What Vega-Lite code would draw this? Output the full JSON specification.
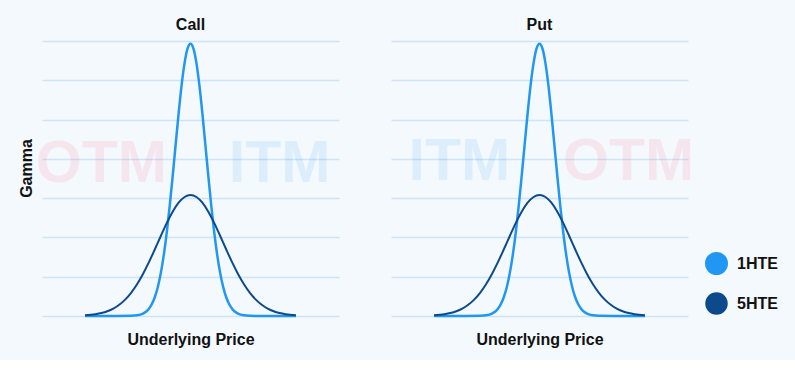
{
  "$schema": "https://vega.github.io/schema/vega-lite/v6.json",
  "background": "#f4f9fe",
  "padding": {"left": 18, "top": 16, "right": 20, "bottom": 13},
  "datasets": {
    "curves": [
      {"series": "1HTE", "x": -35.5, "gamma": 0},
      {"series": "1HTE", "x": -25, "gamma": 0},
      {"series": "1HTE", "x": -20, "gamma": 0.004},
      {"series": "1HTE", "x": -18, "gamma": 0.017},
      {"series": "1HTE", "x": -16, "gamma": 0.061},
      {"series": "1HTE", "x": -15, "gamma": 0.108},
      {"series": "1HTE", "x": -14, "gamma": 0.185},
      {"series": "1HTE", "x": -13, "gamma": 0.304},
      {"series": "1HTE", "x": -12, "gamma": 0.484},
      {"series": "1HTE", "x": -11, "gamma": 0.74},
      {"series": "1HTE", "x": -10, "gamma": 1.091},
      {"series": "1HTE", "x": -9, "gamma": 1.55},
      {"series": "1HTE", "x": -8, "gamma": 2.122},
      {"series": "1HTE", "x": -7, "gamma": 2.8},
      {"series": "1HTE", "x": -6, "gamma": 3.561},
      {"series": "1HTE", "x": -5, "gamma": 4.365},
      {"series": "1HTE", "x": -4, "gamma": 5.155},
      {"series": "1HTE", "x": -3, "gamma": 5.868},
      {"series": "1HTE", "x": -2, "gamma": 6.436},
      {"series": "1HTE", "x": -1, "gamma": 6.803},
      {"series": "1HTE", "x": 0, "gamma": 6.93},
      {"series": "1HTE", "x": 1, "gamma": 6.803},
      {"series": "1HTE", "x": 2, "gamma": 6.436},
      {"series": "1HTE", "x": 3, "gamma": 5.868},
      {"series": "1HTE", "x": 4, "gamma": 5.155},
      {"series": "1HTE", "x": 5, "gamma": 4.365},
      {"series": "1HTE", "x": 6, "gamma": 3.561},
      {"series": "1HTE", "x": 7, "gamma": 2.8},
      {"series": "1HTE", "x": 8, "gamma": 2.122},
      {"series": "1HTE", "x": 9, "gamma": 1.55},
      {"series": "1HTE", "x": 10, "gamma": 1.091},
      {"series": "1HTE", "x": 11, "gamma": 0.74},
      {"series": "1HTE", "x": 12, "gamma": 0.484},
      {"series": "1HTE", "x": 13, "gamma": 0.304},
      {"series": "1HTE", "x": 14, "gamma": 0.185},
      {"series": "1HTE", "x": 15, "gamma": 0.108},
      {"series": "1HTE", "x": 16, "gamma": 0.061},
      {"series": "1HTE", "x": 18, "gamma": 0.017},
      {"series": "1HTE", "x": 20, "gamma": 0.004},
      {"series": "1HTE", "x": 25, "gamma": 0},
      {"series": "1HTE", "x": 35.5, "gamma": 0},
      {"series": "5HTE", "x": -35.5, "gamma": 0.017},
      {"series": "5HTE", "x": -32, "gamma": 0.045},
      {"series": "5HTE", "x": -30, "gamma": 0.075},
      {"series": "5HTE", "x": -28, "gamma": 0.121},
      {"series": "5HTE", "x": -26, "gamma": 0.189},
      {"series": "5HTE", "x": -24, "gamma": 0.285},
      {"series": "5HTE", "x": -22, "gamma": 0.417},
      {"series": "5HTE", "x": -20, "gamma": 0.59},
      {"series": "5HTE", "x": -18, "gamma": 0.808},
      {"series": "5HTE", "x": -16, "gamma": 1.069},
      {"series": "5HTE", "x": -14, "gamma": 1.37},
      {"series": "5HTE", "x": -12, "gamma": 1.699},
      {"series": "5HTE", "x": -10, "gamma": 2.037},
      {"series": "5HTE", "x": -8, "gamma": 2.364},
      {"series": "5HTE", "x": -6, "gamma": 2.654},
      {"series": "5HTE", "x": -4, "gamma": 2.883},
      {"series": "5HTE", "x": -2, "gamma": 3.029},
      {"series": "5HTE", "x": 0, "gamma": 3.08},
      {"series": "5HTE", "x": 2, "gamma": 3.029},
      {"series": "5HTE", "x": 4, "gamma": 2.883},
      {"series": "5HTE", "x": 6, "gamma": 2.654},
      {"series": "5HTE", "x": 8, "gamma": 2.364},
      {"series": "5HTE", "x": 10, "gamma": 2.037},
      {"series": "5HTE", "x": 12, "gamma": 1.699},
      {"series": "5HTE", "x": 14, "gamma": 1.37},
      {"series": "5HTE", "x": 16, "gamma": 1.069},
      {"series": "5HTE", "x": 18, "gamma": 0.808},
      {"series": "5HTE", "x": 20, "gamma": 0.59},
      {"series": "5HTE", "x": 22, "gamma": 0.417},
      {"series": "5HTE", "x": 24, "gamma": 0.285},
      {"series": "5HTE", "x": 26, "gamma": 0.189},
      {"series": "5HTE", "x": 28, "gamma": 0.121},
      {"series": "5HTE", "x": 30, "gamma": 0.075},
      {"series": "5HTE", "x": 32, "gamma": 0.045},
      {"series": "5HTE", "x": 35.5, "gamma": 0.017}
    ],
    "zones": [
      {"panel": "Call", "label": "OTM", "x": -30, "gamma": 3.4},
      {"panel": "Call", "label": "ITM", "x": 30, "gamma": 3.4},
      {"panel": "Put", "label": "ITM", "x": -27, "gamma": 3.45},
      {"panel": "Put", "label": "OTM", "x": 30, "gamma": 3.45}
    ]
  },
  "config": {
    "font": "Liberation Sans",
    "view": {"stroke": null},
    "title": {"fontSize": 16, "fontWeight": "bold", "color": "#111111", "offset": 6, "anchor": "middle"},
    "axis": {"titleFontSize": 16, "titleFontWeight": "bold", "titleColor": "#111111"}
  },
  "spacing": 52,
  "hconcat": [
    {
      "title": "Call",
      "width": 297,
      "height": 275,
      "encoding": {
        "x": {"field": "x", "type": "quantitative", "scale": {"domain": [-50, 50]}, "axis": {"grid": false, "labels": false, "ticks": false, "domain": false, "title": "Underlying Price", "titlePadding": 15}},
        "y": {"field": "gamma", "type": "quantitative", "scale": {"domain": [0, 7], "nice": false}, "axis": {"tickCount": 7, "tickMinStep": 1, "grid": true, "gridColor": "#cde3f9", "gridWidth": 1.5, "labels": false, "ticks": false, "domain": false, "title": "Gamma", "titleBaseline": "alphabetic", "titleX": -11, "titleY": 127}}
      },
      "layer": [
        {
          "data": {"name": "zones"},
          "transform": [{"filter": "datum.panel === 'Call' && datum.label === 'OTM'"}],
          "mark": {"type": "text", "font": "Liberation Sans", "fontWeight": "bold", "fontSize": 59, "align": "center", "baseline": "alphabetic", "color": "#ff4d6d", "opacity": 0.1},
          "encoding": {"text": {"field": "label"}}
        },
        {
          "data": {"name": "zones"},
          "transform": [{"filter": "datum.panel === 'Call' && datum.label === 'ITM'"}],
          "mark": {"type": "text", "font": "Liberation Sans", "fontWeight": "bold", "fontSize": 59, "align": "center", "baseline": "alphabetic", "color": "#2196f3", "opacity": 0.11},
          "encoding": {"text": {"field": "label"}}
        },
        {
          "data": {"name": "curves"},
          "mark": {"type": "line", "interpolate": "monotone"},
          "encoding": {
            "color": {"field": "series", "type": "nominal", "scale": {"domain": ["1HTE", "5HTE"], "range": ["#2196f3", "#0d4a8c"]},
              "legend": {"title": null, "orient": "none", "legendX": 663, "legendY": 211, "symbolType": "circle", "symbolSize": 420, "labelFontSize": 16, "labelFont": "Liberation Sans", "labelFontWeight": "bold", "labelColor": "#111111", "labelOffset": 9, "rowPadding": 10, "padding": 0,
                "encode": {"symbols": {"update": {"fill": {"scale": "color", "field": "value"}, "strokeWidth": {"value": 0}, "opacity": {"value": 1}}}}}},
            "strokeWidth": {"field": "series", "type": "nominal", "scale": {"domain": ["1HTE", "5HTE"], "range": [2.5, 2]}, "legend": null}
          }
        }
      ]
    },
    {
      "title": "Put",
      "width": 297,
      "height": 275,
      "encoding": {
        "x": {"field": "x", "type": "quantitative", "scale": {"domain": [-50, 50]}, "axis": {"grid": false, "labels": false, "ticks": false, "domain": false, "title": "Underlying Price", "titlePadding": 15}},
        "y": {"field": "gamma", "type": "quantitative", "scale": {"domain": [0, 7], "nice": false}, "axis": {"tickCount": 7, "tickMinStep": 1, "grid": true, "gridColor": "#cde3f9", "gridWidth": 1.5, "labels": false, "ticks": false, "domain": false, "title": null}}
      },
      "layer": [
        {
          "data": {"name": "zones"},
          "transform": [{"filter": "datum.panel === 'Put' && datum.label === 'ITM'"}],
          "mark": {"type": "text", "font": "Liberation Sans", "fontWeight": "bold", "fontSize": 59, "align": "center", "baseline": "alphabetic", "color": "#2196f3", "opacity": 0.11},
          "encoding": {"text": {"field": "label"}}
        },
        {
          "data": {"name": "zones"},
          "transform": [{"filter": "datum.panel === 'Put' && datum.label === 'OTM'"}],
          "mark": {"type": "text", "font": "Liberation Sans", "fontWeight": "bold", "fontSize": 59, "align": "center", "baseline": "alphabetic", "color": "#ff4d6d", "opacity": 0.1},
          "encoding": {"text": {"field": "label"}}
        },
        {
          "data": {"name": "curves"},
          "mark": {"type": "line", "interpolate": "monotone"},
          "encoding": {
            "color": {"field": "series", "type": "nominal"},
            "strokeWidth": {"field": "series", "type": "nominal", "legend": null}
          }
        }
      ]
    }
  ]
}
